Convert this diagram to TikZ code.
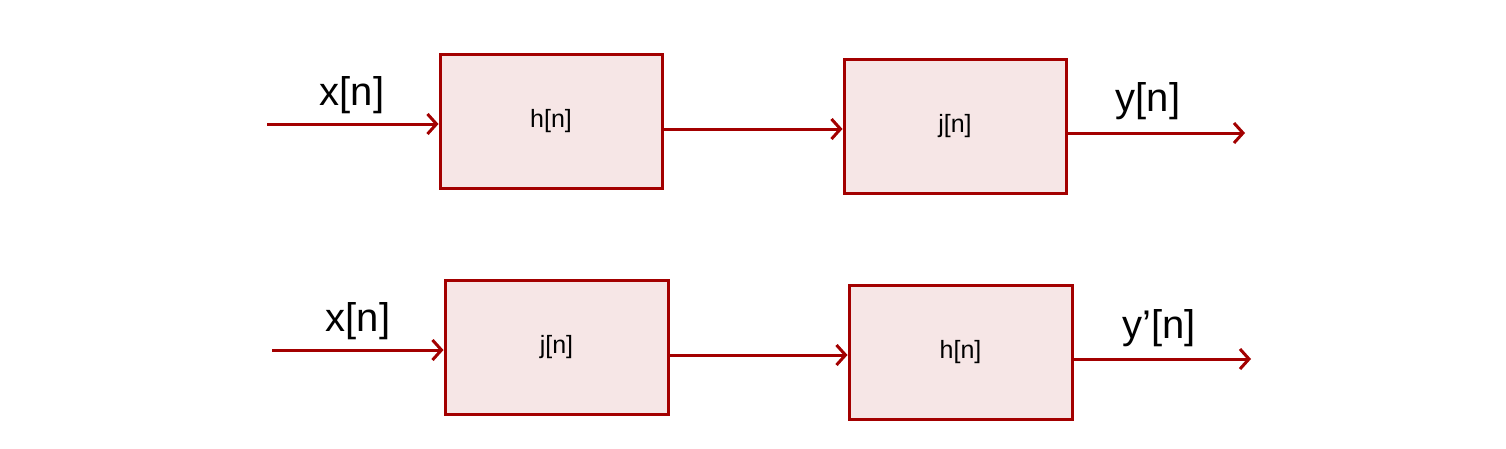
\documentclass[tikz,border=0pt]{standalone}
\usepackage{fontspec}
\setmainfont{Liberation Sans}
\usetikzlibrary{arrows.meta}
\definecolor{dred}{HTML}{A30000}
\definecolor{pfill}{HTML}{F6E6E6}
\begin{document}
\begin{tikzpicture}[x=1pt,y=-1pt,
  blk/.style={draw=dred,fill=pfill,line width=3pt,font=\fontsize{25}{30}\selectfont},
  sig/.style={draw=dred,line width=3pt,-{Straight Barb[length=9pt,width=20pt,line width=3pt]}},
  lab/.style={font=\fontsize{40}{48}\selectfont}]
\useasboundingbox (0,0) rectangle (1506,448);
\node[blk,minimum width=222pt,minimum height=134pt] (h1) at (551,121) {h[n]};
\node[blk,minimum width=222pt,minimum height=134pt] (j1) at (955,126) {j[n]};
\node[blk,minimum width=223pt,minimum height=134pt] (j2) at (556.5,347) {j[n]};
\node[blk,minimum width=223pt,minimum height=134pt] (h2) at (960.5,352) {h[n]};
\coordinate (i1) at (267,124);
\coordinate (o1) at (1245,133);
\coordinate (i2) at (272,350);
\coordinate (o2) at (1251,359);
\draw[sig] (i1) -- (h1.west |- i1);
\draw[sig] (h1.east |- 0,129) -- (j1.west |- 0,129);
\draw[sig] (j1.east |- o1) -- (o1);
\draw[sig] (i2) -- (j2.west |- i2);
\draw[sig] (j2.east |- 0,355) -- (h2.west |- 0,355);
\draw[sig] (h2.east |- o2) -- (o2);
\node[lab] (lx1) at (352,95) {x[n]};
\node[lab] (ly1) at (1148,101) {y[n]};
\node[lab] (lx2) at (358,321) {x[n]};
\node[lab] (ly2) at (1159,328) {y’[n]};
\end{tikzpicture}
\end{document}
